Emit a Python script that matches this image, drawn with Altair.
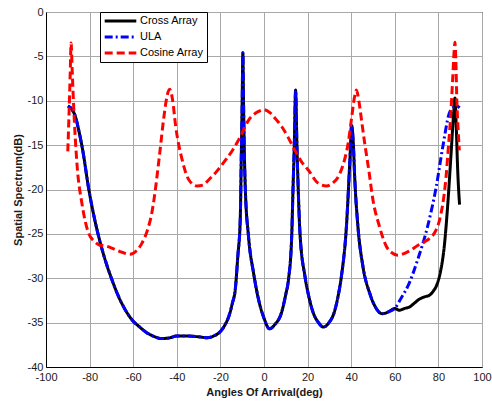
import altair as alt
import pandas as pd

series_names = ["Cross Array", "ULA", "Cosine Array"]
series_colors = ["#000000", "#0000ff", "#ff0000"]
series_dashes = [[1, 0], [8, 3, 2, 3], [8, 4]]

# shared part of Cross Array and ULA (-90 .. 60 deg)
common_x = [-90, -88, -86.5, -85, -83, -80.5, -78, -75, -72, -70, -67, -64, -60.5, -57, -54,
            -50, -47, -43, -40, -35, -30, -26, -23, -20, -18, -16, -14.5, -13.2, -12, -10.9,
            -10.4, -10.0, -9.7, -9.4, -9.0, -8.6, -7.1, -4.8, -2.5, 0, 2.5, 5, 8, 10, 11.2,
            12.7, 13.3, 13.9, 14.5, 15.1, 15.7, 16.5, 18.8, 20.5, 22.6, 25, 27.2, 29.5, 32.5,
            34, 35.5, 37.8, 39.4, 40.2, 41, 41.6, 43.1, 45.4, 48.5, 51, 54.2, 57, 60]
common_y = [-10.6, -11.0, -11.8, -13.3, -15.8, -19.8, -23.0, -26.1, -28.6, -30.0, -31.9, -33.4,
            -34.7, -35.5, -36.1, -36.6, -36.8, -36.7, -36.5, -36.5, -36.6, -36.7, -36.5, -36.0,
            -35.3, -34.2, -32.8, -31.3, -27.5, -23.4, -16.0, -10.0, -4.6, -10.0, -16.0, -19.7,
            -25.3, -29.4, -32.4, -34.5, -35.7, -35.2, -33.9, -31.8, -30.2, -25.3, -20.0, -15.0,
            -8.8, -15.0, -20.0, -24.9, -29.8, -32.0, -33.9, -35.0, -35.5, -35.1, -33.6, -32.0,
            -29.8, -24.2, -16.7, -12.8, -15.0, -18.6, -24.2, -28.7, -31.7, -33.2, -34.0, -33.8,
            -33.4]

cross_tail_x = [62, 64.5, 67, 69, 71, 73.6, 76, 77.5, 79.5, 81, 82.7, 84.2, 85.8, 87, 87.6,
                88.2, 88.8, 89.7]
cross_tail_y = [-33.6, -33.4, -33.2, -32.8, -32.4, -32.1, -31.9, -31.5, -30.6, -29.2, -26.4,
                -22.0, -16.0, -11.4, -9.7, -13.0, -17.5, -21.7]

ula_tail_x = [63, 66, 70.5, 75, 79, 82, 85, 86.5, 88.5, 89.7]
ula_tail_y = [-32.2, -30.9, -27.9, -24.2, -19.7, -15.2, -11.4, -10.8, -10.6, -10.8]

cosine_x = [-90, -89.5, -88.9, -88.5, -88, -87.3, -85.8, -83.5, -80.5, -78, -75.9, -72, -69.8,
            -66, -63.7, -61.4, -58.5, -56.1, -53.5, -51.5, -50.5, -48.2, -45.9, -44.5, -43.3,
            -42, -40.5, -37.5, -34.5, -30.7, -28, -25.3, -21.5, -17.7, -14.5, -11.6, -7.1,
            -2.5, -0.2, 3, 5.5, 8.1, 11, 14.2, 17, 20.3, 24.9, 28.7, 31.5, 34.8, 37, 38.6, 40,
            41.5, 42.4, 43.5, 44.8, 46.2, 48, 50, 53, 56.1, 58.5, 61.4, 64.5, 67.5, 70.5, 73.6,
            76, 78.2, 80, 81.2, 82.5, 83.5, 84.5, 85.5, 86.5, 87.2, 87.6, 88, 88.5, 89.1, 89.6]
cosine_y = [-15.7, -12.0, -7.0, -3.5, -6.5, -10.7, -17.1, -21.6, -24.9, -25.8, -26.2, -26.4,
            -26.6, -27.0, -27.2, -27.3, -26.9, -26.1, -24.6, -22.7, -21.2, -16.7, -11.8, -9.5,
            -8.7, -9.8, -12.9, -16.7, -18.9, -19.6, -19.5, -18.9, -17.9, -16.7, -15.6, -14.4,
            -12.2, -11.2, -11.0, -11.4, -12.1, -12.9, -14.1, -15.6, -16.8, -17.8, -19.3, -19.6,
            -19.3, -18.2, -16.6, -14.8, -12.3, -9.6, -8.8, -10.0, -12.3, -14.8, -17.7, -21.2,
            -24.2, -26.4, -27.1, -27.4, -27.2, -26.8, -26.3, -25.9, -25.5, -24.9, -23.9, -22.7,
            -20.8, -18.6, -15.5, -12.2, -7.8, -4.5, -3.4, -5.5, -10.3, -13.5, -15.6]

x_ticks = [-100, -80, -60, -40, -20, 0, 20, 40, 60, 80, 100]
y_ticks = [-40, -35, -30, -25, -20, -15, -10, -5, 0]

rows = []
for name, xs, ys in [
    ("Cross Array", common_x + cross_tail_x, common_y + cross_tail_y),
    ("ULA", common_x + ula_tail_x, common_y + ula_tail_y),
    ("Cosine Array", cosine_x, cosine_y),
]:
    for i, (a, v) in enumerate(zip(xs, ys)):
        rows.append({"series": name, "angle": a, "value": v, "idx": i})
df = pd.DataFrame(rows)

FONT = "Liberation Sans"

legend_cfg = dict(
    title=None, orient="none", legendX=54, legendY=0,
    strokeColor="black", fillColor="white", padding=3,
    symbolType="stroke", symbolStrokeWidth=3, symbolSize=1000,
    clipHeight=12,
    labelFont=FONT, labelFontSize=11, labelColor="black",
    rowPadding=4, labelOffset=2, cornerRadius=0,
)

base = alt.Chart(df).mark_line(strokeWidth=3, interpolate="monotone").encode(
    x=alt.X("angle:Q", scale=alt.Scale(domain=[-100, 100], nice=False),
            axis=alt.Axis(values=x_ticks, title="Angles Of Arrival(deg)",
                          labelExpr="'' + datum.value")),
    y=alt.Y("value:Q", scale=alt.Scale(domain=[-40, 0], nice=False),
            axis=alt.Axis(values=y_ticks, title="Spatial Spectrum(dB)",
                          labelExpr="'' + datum.value")),
    color=alt.Color("series:N", scale=alt.Scale(domain=series_names, range=series_colors),
                    legend=alt.Legend(**legend_cfg)),
    strokeDash=alt.StrokeDash("series:N", scale=alt.Scale(domain=series_names, range=series_dashes),
                              legend=alt.Legend(**legend_cfg)),
    order="idx:Q",
)

layers = [base.transform_filter(alt.datum.series == n) for n in series_names]

chart = alt.layer(*layers).properties(
    width=436, height=355,
    autosize=alt.AutoSizeParams(type="none"),
    padding={"left": 46, "top": 12, "right": 10, "bottom": 36},
    background="white",
).configure_view(
    stroke="black", strokeWidth=1,
).configure_axis(
    grid=True, gridColor="#a8a8a8", gridWidth=1,
    domainColor="black", domainWidth=1,
    ticks=False, labelPadding=4,
    labelFlush=False, labelOverlap=False, labelBound=False,
    labelFont=FONT, labelFontSize=11, labelColor="#1a1a1a",
    titleFont=FONT, titleFontSize=11, titleFontWeight="bold", titleColor="#1a1a1a",
).configure_axisX(
    titlePadding=4,
).configure_axisY(
    titlePadding=4, labelPadding=3,
)

chart.save("out.html", embed_options={"renderer": "svg", "actions": False})
